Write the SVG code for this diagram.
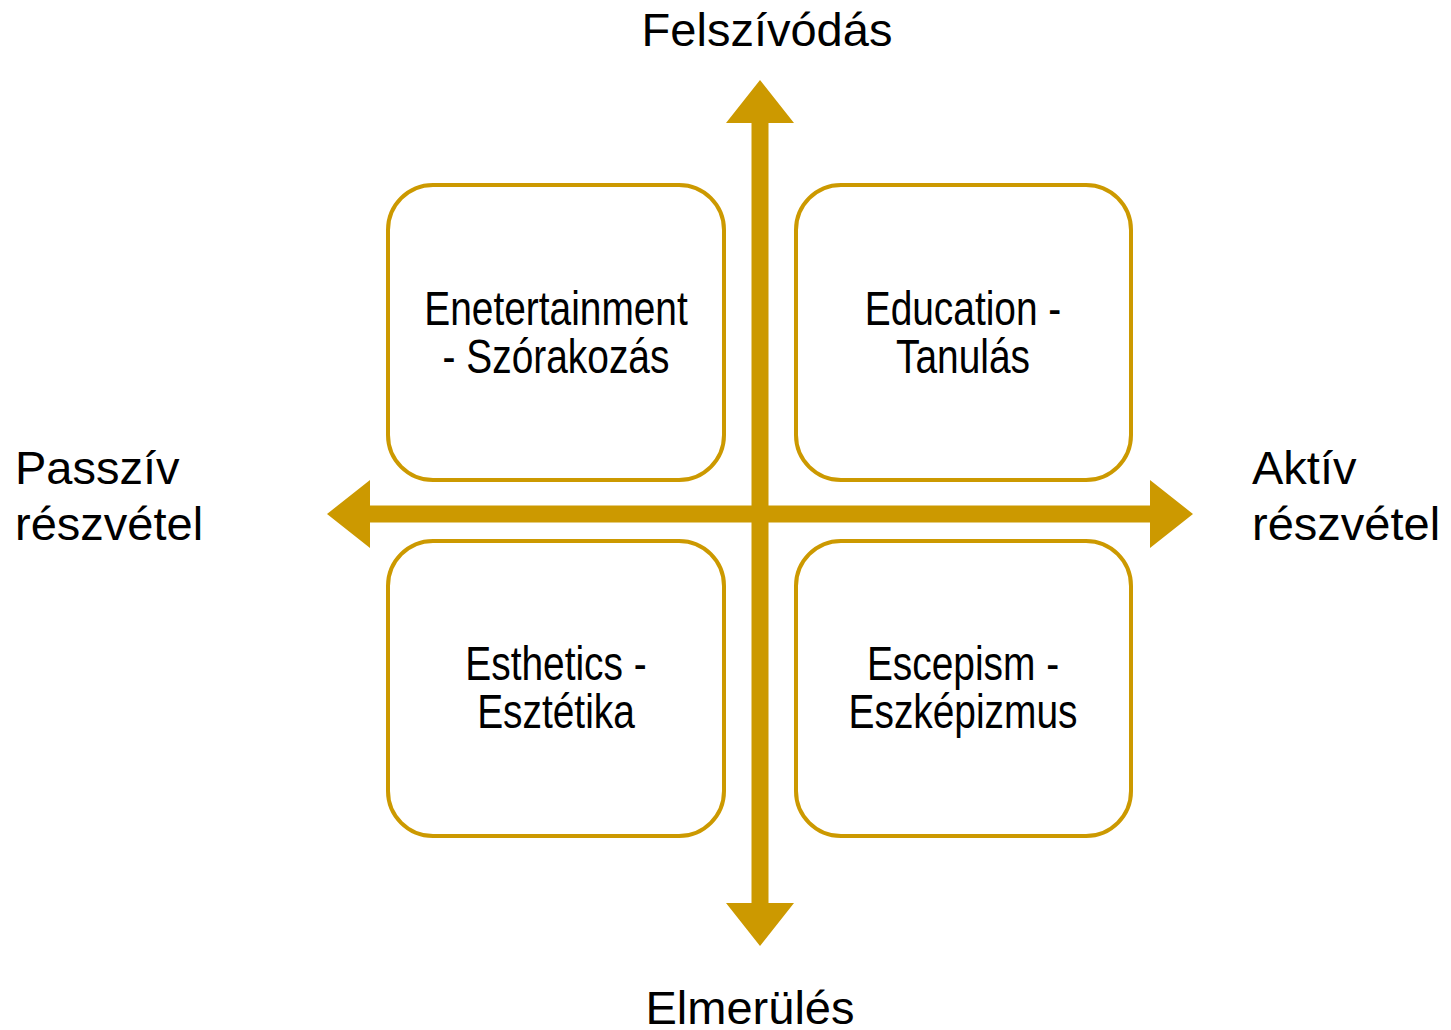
<svg xmlns="http://www.w3.org/2000/svg" width="1451" height="1030" viewBox="0 0 1451 1030">
<style>
.box{fill:#FFFFFF;stroke:#CC9900;stroke-width:4}
.arrow{fill:#CC9900}
.lbl{font-family:"Liberation Sans",Arial,sans-serif;font-size:47px;fill:#000000}
.btxt{font-family:"Liberation Sans",Arial,sans-serif;font-size:48px;fill:#000000;text-anchor:middle}
</style>
<rect width="1451" height="1030" fill="#FFFFFF"/>
<g id="connectors">
<polygon class="arrow" points="751.5,946 751.5,123 726,123 760,80 794,123 768.5,123 768.5,903 794,903 760,946 726,903 751.5,903"/>
<polygon class="arrow" points="370,505.5 1150,505.5 1150,480 1193,514 1150,548 1150,522.5 370,522.5 370,548 327,514 370,480"/>
</g>
<g id="node-entertainment">
<rect class="box" x="388" y="185" width="336" height="295" rx="45" ry="45"/>
<text class="btxt" transform="translate(556,325) scale(0.81,1)"><tspan x="0" y="0">Enetertainment</tspan><tspan x="0" y="48">- Szórakozás</tspan></text>
</g>
<g id="node-education">
<rect class="box" x="796" y="185" width="335" height="295" rx="45" ry="45"/>
<text class="btxt" transform="translate(963,325) scale(0.81,1)"><tspan x="0" y="0">Education -</tspan><tspan x="0" y="48">Tanulás</tspan></text>
</g>
<g id="node-esthetics">
<rect class="box" x="388" y="541" width="336" height="295" rx="45" ry="45"/>
<text class="btxt" transform="translate(556,680) scale(0.81,1)"><tspan x="0" y="0">Esthetics -</tspan><tspan x="0" y="48">Esztétika</tspan></text>
</g>
<g id="node-escapism">
<rect class="box" x="796" y="541" width="335" height="295" rx="45" ry="45"/>
<text class="btxt" transform="translate(963,680) scale(0.81,1)"><tspan x="0" y="0">Escepism -</tspan><tspan x="0" y="48">Eszképizmus</tspan></text>
</g>
<g id="labels">
<text class="lbl" x="767" y="46" text-anchor="middle">Felszívódás</text>
<text class="lbl" x="750" y="1024" text-anchor="middle">Elmerülés</text>
<text class="lbl" x="15" y="484"><tspan x="15" y="484">Passzív</tspan><tspan x="15" y="540">részvétel</tspan></text>
<text class="lbl" x="1252" y="484"><tspan x="1252" y="484">Aktív</tspan><tspan x="1252" y="540">részvétel</tspan></text>
</g>
</svg>
